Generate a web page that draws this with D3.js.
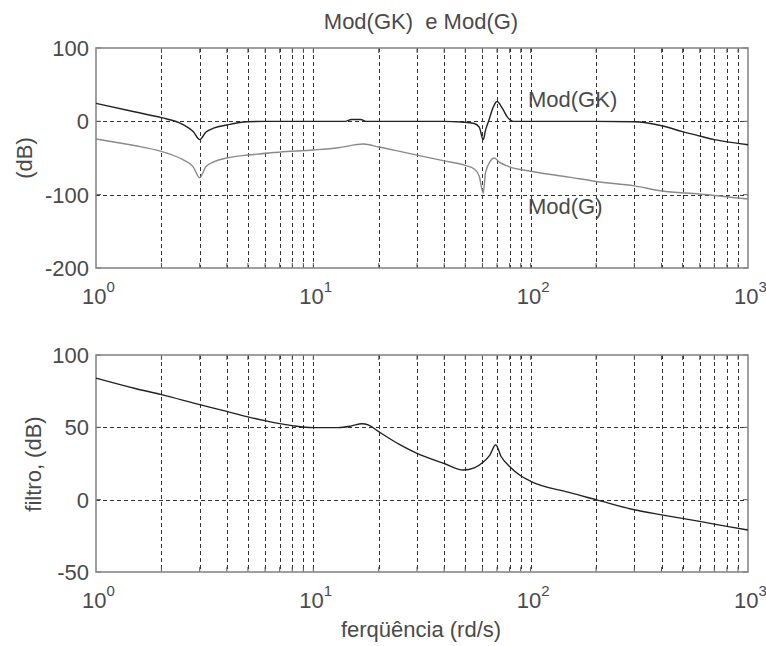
<!DOCTYPE html>
<html>
<head>
<meta charset="utf-8">
<script src="https://cdn.jsdelivr.net/npm/d3@7"></script>
<style>
  body { margin: 0; background: #fff; }
  text { font-family: "Liberation Sans", Arial, sans-serif; fill: #4a4a4a; white-space: pre; }
</style>
</head>
<body>
<script>
const width = 766, height = 646;

// frequencies (rd/s) and magnitudes (dB)
const wGK = [1, 1.5, 2, 2.5, 2.8, 3.0, 3.2, 3.5, 4, 4.5, 5, 6, 8, 10, 14, 15, 16.5, 17.5, 20, 40, 48, 55, 58, 60.5, 62, 64, 67, 70, 74, 78, 83, 100, 200, 300, 400, 500, 600, 700, 900, 1000];
const modGK = [24.5, 13, 5, -4, -14, -25, -15, -9, -5, -2, -0.5, 0, 0, 0, 0, 2.5, 2.5, 0, 0, 0, -1, -3, -8, -25, -12, 0, 18, 27, 18, 6, 0, 0, 0, -0.5, -6, -14, -20, -25, -30, -32];

const wG = [1, 1.5, 2, 2.5, 2.8, 3.0, 3.2, 3.5, 4, 5, 7, 10, 13, 17, 20, 25, 30, 40, 50, 55, 58, 60.5, 62, 65, 68, 72, 80, 100, 150, 200, 300, 400, 600, 1000];
const modG = [-24, -33, -41, -52, -62, -77, -62, -55, -50, -46, -42, -39, -36, -31, -35, -41, -46, -54, -60, -65, -75, -98, -70, -55, -50, -56, -62, -68, -76, -82, -88, -95, -99, -106];

const wF = [1, 1.5, 2, 3, 4, 5, 6, 8, 10, 13, 15, 16.7, 18, 20, 25, 30, 40, 49, 55, 60, 65, 69, 73, 80, 90, 100, 150, 200, 300, 400, 600, 800, 1000];
const filtro = [84, 77, 72.6, 65.7, 61, 57.2, 54.6, 51.2, 49.8, 49.8, 51, 52.5, 51.5, 47, 38, 32, 25, 20.5, 22, 25.5, 31, 38, 30, 23, 16.5, 12.7, 5, 0, -7, -10.5, -15, -18.5, -21];

const xDecades = [1, 10, 100, 1000];
const topTicks = [100, 0, -100, -200];
const botTicks = [100, 50, 0, -50];

const svg = d3.select("body").append("svg")
    .attr("width", width).attr("height", height);

const left = 96, right = 748;
const x = d3.scaleLog().domain([1, 1000]).range([left, right]);

// minor positions 2..9 per decade, plus decades inside
const minor = [];
for (const d of [1, 10, 100]) for (let k = 2; k <= 9; k++) minor.push(d * k);
const vGrid = minor.concat([10, 100]);

function panel(y0, y1, domain, yTicks) {
    const y = d3.scaleLinear().domain(domain).range([y1, y0]);
    const g = svg.append("g");

    // grid
    g.selectAll(".vg").data(vGrid).join("line")
        .attr("x1", d => Math.round(x(d)) + 0.5).attr("x2", d => Math.round(x(d)) + 0.5)
        .attr("y1", y0).attr("y2", y1)
        .attr("stroke", "#333").attr("stroke-dasharray", "4,3");
    g.selectAll(".hg").data(yTicks.slice(1, -1)).join("line")
        .attr("x1", left).attr("x2", right)
        .attr("y1", d => Math.round(y(d)) + 0.5).attr("y2", d => Math.round(y(d)) + 0.5)
        .attr("stroke", "#333").attr("stroke-dasharray", "4,3");

    // tick marks on the edges
    g.selectAll(".tt").data(vGrid).join("path")
        .attr("d", d => `M${x(d)},${y0}v5M${x(d)},${y1}v-5`)
        .attr("stroke", "#555");
    g.selectAll(".ty").data(yTicks).join("path")
        .attr("d", d => `M${left},${y(d)}h5M${right},${y(d)}h-5`)
        .attr("stroke", "#555");

    // frame
    g.append("rect").attr("x", left).attr("y", y0)
        .attr("width", right - left).attr("height", y1 - y0)
        .attr("fill", "none").attr("stroke", "#888").attr("stroke-width", 1.6);

    // y tick labels
    g.selectAll(".yl").data(yTicks).join("text")
        .attr("x", 89).attr("y", d => y(d)).attr("dy", "0.36em")
        .attr("text-anchor", "end").attr("font-size", 22)
        .text(d => d);

    // x tick labels 10^n
    const xl = g.selectAll(".xl").data(xDecades).join("text")
        .attr("x", d => x(d) - 14).attr("y", y1 + 36)
        .attr("font-size", 22);
    xl.append("tspan").text("10");
    xl.append("tspan").attr("dy", -12).attr("font-size", 15).text(d => Math.round(Math.log10(d)));

    return y;
}

const yTop = panel(48, 268, [-200, 100], topTicks);
const yBot = panel(355, 572, [-50, 100], botTicks);

const lineTop = d3.line().x(d => x(d[0])).y(d => yTop(d[1])).curve(d3.curveMonotoneX);
const lineBot = d3.line().x(d => x(d[0])).y(d => yBot(d[1])).curve(d3.curveMonotoneX);

svg.append("path").datum(d3.zip(wG, modG))
    .attr("d", lineTop).attr("fill", "none").attr("stroke", "#8a8a8a").attr("stroke-width", 1.4);
svg.append("path").datum(d3.zip(wGK, modGK))
    .attr("d", lineTop).attr("fill", "none").attr("stroke", "#222").attr("stroke-width", 1.4);
svg.append("path").datum(d3.zip(wF, filtro))
    .attr("d", lineBot).attr("fill", "none").attr("stroke", "#222").attr("stroke-width", 1.4);

// annotations
svg.append("text").attr("x", 528).attr("y", 107).attr("font-size", 22).text("Mod(GK)");
svg.append("text").attr("x", 528).attr("y", 214).attr("font-size", 22).text("Mod(G)");

// titles and labels
svg.append("text").attr("x", 421).attr("y", 29).attr("text-anchor", "middle")
    .attr("font-size", 22).text("Mod(GK)  e Mod(G)");
svg.append("text").attr("transform", "translate(32,158) rotate(-90)")
    .attr("text-anchor", "middle").attr("font-size", 22).text("(dB)");
svg.append("text").attr("transform", "translate(41,464) rotate(-90)")
    .attr("text-anchor", "middle").attr("font-size", 22).text("filtro, (dB)");
svg.append("text").attr("x", 421).attr("y", 637).attr("text-anchor", "middle")
    .attr("font-size", 22).text("ferqüência (rd/s)");
</script>
</body>
</html>
